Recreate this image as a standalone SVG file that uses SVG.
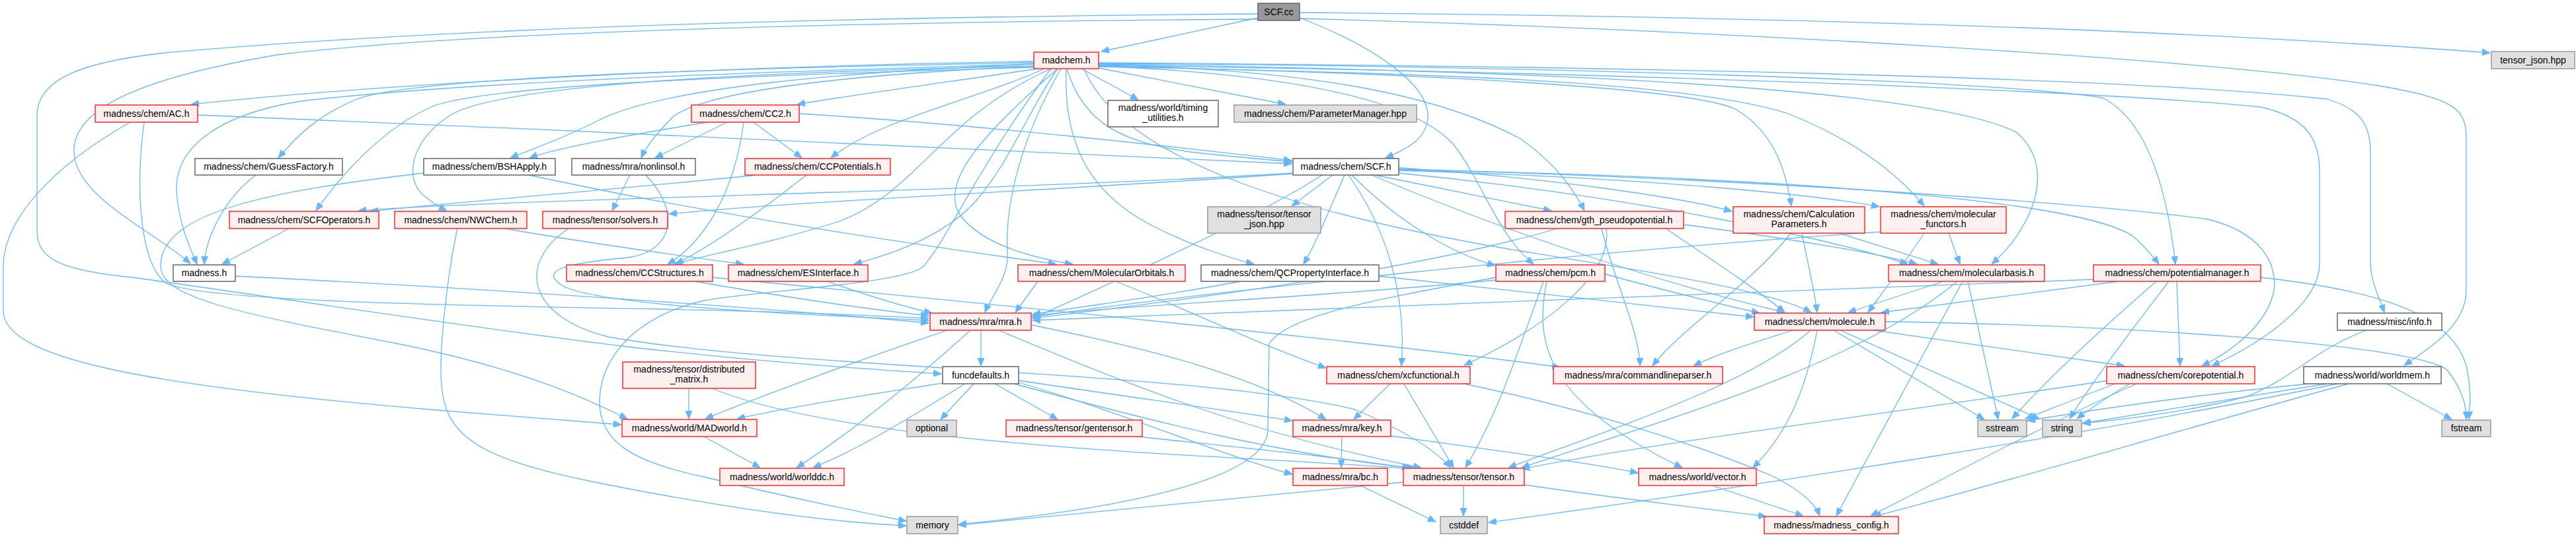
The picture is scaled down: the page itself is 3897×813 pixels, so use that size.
<svg xmlns="http://www.w3.org/2000/svg" width="3897" height="813" viewBox="0 0 3897 813">
<defs>
<marker id="a" markerUnits="userSpaceOnUse" markerWidth="13" markerHeight="10" refX="12" refY="5" orient="auto"><path d="M0,0 L12,5 L0,10 z" fill="#63b8ff" stroke="#63b8ff" stroke-width="1"/></marker>
<style>
.e path{fill:none;stroke:#63b8ff;stroke-width:1.3;marker-end:url(#a)}
.r rect{fill:#fff0f0;stroke:#ff2a2a;stroke-width:1.5}
.w rect{fill:#ffffff;stroke:#666666;stroke-width:1.5}
.g rect{fill:#e0e0e0;stroke:#999999;stroke-width:1.5}
.s rect{fill:#999999;stroke:#666666;stroke-width:1.5}
text{font-family:"Liberation Sans",Arial,Helvetica,sans-serif;font-size:14px;fill:#000;text-anchor:middle}
</style>
</defs>
<rect width="3897" height="813" fill="#ffffff"/>
<g id="connectors" class="e">
<path d="M1903,27 L1666,78"/>
<path d="M1966,27 C2080,70 2165,130 2160,180 C2157,210 2130,225 2096,239"/>
<path d="M1966,19 C2700,25 3300,45 3767,80"/>
<path d="M1966,28 C2600,45 3350,90 3600,130 C3715,150 3731,165 3731,210 L3731,440 C3731,490 3680,525 3637,553"/>
<path d="M1903,21 C1300,26 700,40 250,80 C110,95 56,125 56,175 L56,350 C56,395 100,410 200,420 C350,440 700,495 950,525 C1150,548 1300,558 1424,566"/>
<path d="M1903,29 C1300,33 700,48 420,83 C200,120 100,170 113,240 C126,305 240,355 288,399"/>
<path d="M1564,93 C1100,100 600,125 289,158"/>
<path d="M1570,104 C1450,122 1300,142 1206,158"/>
<path d="M1636,104 L1722,151"/>
<path d="M1662,103 L1945,158"/>
<path d="M1564,95 C1000,105 620,120 540,150 C480,175 450,205 421,239"/>
<path d="M1566,97 C1300,108 1000,130 900,185 C850,210 800,228 772,239"/>
<path d="M1568,100 C1300,112 1080,135 1020,175 C995,200 978,220 970,239"/>
<path d="M1580,104 C1480,150 1330,180 1257,239"/>
<path d="M1614,104 C1640,190 1700,215 1800,230 C1870,238 1920,242 1955,245"/>
<path d="M1566,102 C1100,115 720,130 650,163 C580,195 520,260 478,319"/>
<path d="M1566,100 C1100,110 750,130 680,175 C620,215 612,270 640,295 C655,308 665,314 676,319"/>
<path d="M1564,97 C1100,110 700,125 456,153 C320,175 258,230 268,300 C274,350 290,380 298,400"/>
<path d="M1662,98 C1950,105 2160,135 2300,210 C2350,245 2380,285 2397,319"/>
<path d="M1662,100 C2100,110 2550,130 2625,165 C2685,200 2702,260 2710,312"/>
<path d="M1662,101 C2150,110 2550,122 2705,172 C2805,212 2870,262 2911,312"/>
<path d="M1590,104 C1420,180 1390,290 1270,335 C1160,370 1070,385 1020,400"/>
<path d="M1600,104 C1560,160 1530,240 1480,300 C1430,360 1340,387 1292,400"/>
<path d="M1600,104 C1490,200 1420,275 1452,325 C1485,370 1560,390 1623,400"/>
<path d="M1613,104 C1608,220 1650,300 1760,350 C1820,378 1860,390 1897,400"/>
<path d="M1662,100 C1900,110 2130,140 2200,220 C2245,280 2265,355 2320,400"/>
<path d="M1662,97 C2200,105 2900,125 3050,200 C3110,250 3080,340 3013,400"/>
<path d="M1662,96 C2300,100 3000,120 3180,148 C3252,182 3280,300 3291,400"/>
<path d="M1662,95 C2400,100 3200,115 3520,150 C3572,165 3586,190 3586,230 L3586,400 C3588,430 3600,452 3607,473"/>
<path d="M1662,99 C2500,110 3200,140 3420,162 C3490,178 3509,210 3509,260 L3509,400 C3509,460 3420,520 3346,554"/>
<path d="M1605,104 C1550,200 1520,300 1524,380 C1527,420 1500,448 1490,473"/>
<path d="M1640,104 C1700,250 2000,330 2300,380 C2500,412 2680,440 2740,473"/>
<path d="M1590,104 C1480,250 1430,370 1395,405 C1360,430 1150,440 1065,455 C960,480 910,540 907,605 C905,670 960,700 1065,722 C1200,755 1300,775 1371,789"/>
<path d="M1956,262 C1500,290 800,300 542,319"/>
<path d="M1956,263 C1600,288 1200,305 1012,324"/>
<path d="M2016,265 L1954,312"/>
<path d="M2080,265 L2347,319"/>
<path d="M2116,254 C2350,270 2550,300 2620,320"/>
<path d="M2116,258 C2500,270 2750,295 2843,313"/>
<path d="M2034,265 C2010,320 1990,370 1972,400"/>
<path d="M2045,265 C2120,340 2200,385 2262,402"/>
<path d="M2116,262 C2500,300 2800,370 2886,400"/>
<path d="M2116,257 C2800,270 3180,312 3232,362 C3250,380 3260,392 3266,400"/>
<path d="M2000,265 C1900,330 1700,420 1562,482"/>
<path d="M2075,265 C2300,360 2520,430 2700,473"/>
<path d="M2040,265 C2100,350 2128,450 2120,554"/>
<path d="M2116,256 C2700,272 3200,312 3340,332 C3422,352 3445,400 3440,440 C3430,490 3380,530 3331,554"/>
<path d="M299,174 C900,200 1700,232 1954,248"/>
<path d="M197,185 C100,240 8,320 5,400 L5,470 C5,540 200,582 650,620 C800,632 880,638 940,643"/>
<path d="M218,185 C203,300 215,400 250,428 C300,455 650,462 1000,468 C1200,472 1330,478 1405,482"/>
<path d="M1209,172 C1500,190 1800,225 1954,243"/>
<path d="M1070,185 C950,205 850,222 801,239"/>
<path d="M1100,185 L991,239"/>
<path d="M1140,185 L1213,239"/>
<path d="M1125,185 C1110,300 1060,370 1010,400"/>
<path d="M387,265 C340,300 311,360 309,400"/>
<path d="M641,262 C400,290 247,322 243,400 C240,450 350,472 600,520 C800,560 900,610 949,634"/>
<path d="M800,265 C1100,330 1400,372 1598,400"/>
<path d="M953,265 L926,319"/>
<path d="M977,265 C1030,320 1020,380 950,390 C840,400 820,412 850,432 C900,462 1200,476 1405,485"/>
<path d="M860,346 C780,400 800,480 920,510 C1200,560 1800,560 2050,620 C2120,650 2170,680 2195,708"/>
<path d="M1145,265 C900,290 700,305 560,320"/>
<path d="M1220,265 C1150,320 1080,370 1022,400"/>
<path d="M437,346 L336,400"/>
<path d="M764,346 C900,370 1050,390 1125,400"/>
<path d="M692,346 C680,400 667,500 667,560 C667,650 700,690 900,730 C1100,770 1250,790 1371,796"/>
<path d="M356,418 C800,440 1200,470 1405,489"/>
<path d="M1052,426 C1200,452 1330,470 1405,478"/>
<path d="M1078,420 C1500,460 2100,520 2360,556"/>
<path d="M1251,426 C1320,450 1370,465 1410,474"/>
<path d="M1688,426 C1800,470 1900,520 2006,557"/>
<path d="M1570,426 L1536,473"/>
<path d="M1876,426 C1750,450 1650,462 1562,476"/>
<path d="M2086,418 C2300,440 2500,462 2653,480"/>
<path d="M2428,415 C2520,440 2600,460 2662,474"/>
<path d="M2335,426 C2300,520 2270,620 2217,708"/>
<path d="M2340,426 C2320,520 2340,610 2545,708"/>
<path d="M2263,420 C2100,450 1950,475 1920,520 L1918,650 C1918,725 1700,770 1450,794"/>
<path d="M2263,424 C2000,450 1700,462 1562,478"/>
<path d="M2940,426 L2796,473"/>
<path d="M2977,426 L3023,635"/>
<path d="M2969,426 L2778,781"/>
<path d="M2961,426 C2800,560 2500,640 2302,708"/>
<path d="M3205,426 L2846,473"/>
<path d="M3293,426 L3298,554"/>
<path d="M3420,420 C3600,440 3705,475 3730,550 C3740,590 3736,615 3735,635"/>
<path d="M3262,426 C3200,480 3100,570 3044,634"/>
<path d="M3281,426 C3240,480 3170,570 3131,634"/>
<path d="M3167,423 C2700,440 2000,468 1562,485"/>
<path d="M2712,500 C2650,520 2600,535 2562,554"/>
<path d="M2774,500 L3002,635"/>
<path d="M2784,500 L3085,634"/>
<path d="M2852,487 C3200,492 3650,520 3702,560 C3725,590 3731,612 3731,635"/>
<path d="M2834,500 L3214,554"/>
<path d="M2749,500 C2730,600 2700,660 2652,708"/>
<path d="M2739,500 C2650,580 2450,645 2282,708"/>
<path d="M3200,581 C3150,600 3100,620 3064,634"/>
<path d="M3222,581 C3190,600 3160,620 3142,634"/>
<path d="M3232,581 C3100,640 2950,720 2830,781"/>
<path d="M3190,576 C2900,620 2500,670 2302,710"/>
<path d="M3611,581 L3709,635"/>
<path d="M3520,581 C3400,600 3250,625 3150,641"/>
<path d="M3492,581 C3350,595 3200,615 3067,637"/>
<path d="M3553,581 C3300,650 3000,740 2834,782"/>
<path d="M3536,581 C3200,650 2700,730 2252,791"/>
<path d="M3580,500 C3500,530 3470,572 3400,600 C3300,626 3200,636 3151,641"/>
<path d="M1484,500 L1484,554"/>
<path d="M1433,500 C1300,545 1150,600 1067,634"/>
<path d="M1468,500 C1380,580 1280,660 1205,708"/>
<path d="M1511,500 C1700,580 1900,660 2150,708"/>
<path d="M1560,492 C1750,530 1900,570 2006,635"/>
<path d="M1473,581 L1423,635"/>
<path d="M1505,581 L1600,635"/>
<path d="M1541,576 C1700,600 1850,620 1955,637"/>
<path d="M1541,579 C1700,625 1850,690 1955,718"/>
<path d="M1534,581 C1750,640 1950,690 2140,709"/>
<path d="M1426,580 C1300,600 1200,615 1115,634"/>
<path d="M1460,581 C1380,630 1300,680 1230,708"/>
<path d="M1042,588 L1042,634"/>
<path d="M1077,588 C1300,680 1900,690 2138,710"/>
<path d="M2103,581 L2048,635"/>
<path d="M2124,581 L2199,708"/>
<path d="M2215,581 C2400,620 2560,670 2680,720 C2720,740 2745,760 2753,781"/>
<path d="M1721,661 C1900,680 2050,695 2133,709"/>
<path d="M2030,661 L2029,708"/>
<path d="M2104,660 C2250,680 2400,700 2478,716"/>
<path d="M1065,661 L1150,708"/>
<path d="M2058,735 L2172,790"/>
<path d="M2214,735 L2214,781"/>
<path d="M2123,730 C1800,760 1600,780 1450,795"/>
<path d="M2306,734 C2450,755 2580,770 2672,782"/>
<path d="M2590,735 L2728,781"/>
<path d="M2726,353 C2735,400 2745,440 2749,473"/>
<path d="M2782,353 L2932,400"/>
<path d="M2709,353 C2650,430 2540,500 2500,554"/>
<path d="M2911,353 C2880,400 2850,440 2826,473"/>
<path d="M2948,353 L2965,400"/>
<path d="M2845,351 C2400,380 1800,445 1562,480"/>
<path d="M2547,340 C2700,360 2850,385 2900,400"/>
<path d="M2520,346 C2600,400 2660,440 2700,473"/>
<path d="M2356,346 C2100,420 1700,465 1562,482"/>
<path d="M2423,346 C2440,420 2480,500 2481,554"/>
<path d="M2430,346 C2440,420 2330,500 2215,553"/>
</g>
<g id="n_scfcc" class="s"><rect x="1903" y="5" width="63" height="26"/><text x="1934.5" y="23">SCF.cc</text></g>
<g id="n_madchem" class="r"><rect x="1564" y="79" width="98" height="25"/><text x="1613" y="96">madchem.h</text></g>
<g id="n_tensorjson" class="g"><rect x="3769" y="78" width="126" height="26"/><text x="3832" y="96">tensor_json.hpp</text></g>
<g id="n_ac" class="r"><rect x="144" y="159" width="155" height="26"/><text x="221.5" y="177">madness/chem/AC.h</text></g>
<g id="n_cc2" class="r"><rect x="1046" y="159" width="163" height="26"/><text x="1127.5" y="177">madness/chem/CC2.h</text></g>
<g id="n_timing" class="w"><rect x="1676" y="152" width="167" height="40"/><text x="1759.5" y="168">madness/world/timing</text><text x="1759.5" y="183">_utilities.h</text></g>
<g id="n_parammgr" class="g"><rect x="1867" y="159" width="276" height="26"/><text x="2005" y="177">madness/chem/ParameterManager.hpp</text></g>
<g id="n_guess" class="w"><rect x="295" y="240" width="223" height="25"/><text x="406.5" y="257">madness/chem/GuessFactory.h</text></g>
<g id="n_bsh" class="w"><rect x="641" y="240" width="199" height="25"/><text x="740.5" y="257">madness/chem/BSHApply.h</text></g>
<g id="n_nonlinsol" class="w"><rect x="865" y="240" width="187" height="25"/><text x="958.5" y="257">madness/mra/nonlinsol.h</text></g>
<g id="n_ccpot" class="r"><rect x="1127" y="240" width="220" height="25"/><text x="1237" y="257">madness/chem/CCPotentials.h</text></g>
<g id="n_scfh" class="w"><rect x="1956" y="240" width="160" height="25"/><text x="2036" y="257">madness/chem/SCF.h</text></g>
<g id="n_scfops" class="r"><rect x="347" y="320" width="226" height="26"/><text x="460" y="338">madness/chem/SCFOperators.h</text></g>
<g id="n_nwchem" class="r"><rect x="597" y="320" width="200" height="26"/><text x="697" y="338">madness/chem/NWChem.h</text></g>
<g id="n_solvers" class="r"><rect x="821" y="320" width="189" height="26"/><text x="915.5" y="338">madness/tensor/solvers.h</text></g>
<g id="n_tensorjson2" class="g"><rect x="1827" y="313" width="171" height="40"/><text x="1912.5" y="329">madness/tensor/tensor</text><text x="1912.5" y="344">_json.hpp</text></g>
<g id="n_gth" class="r"><rect x="2277" y="320" width="270" height="26"/><text x="2412" y="338">madness/chem/gth_pseudopotential.h</text></g>
<g id="n_calcparams" class="r"><rect x="2622" y="313" width="199" height="40"/><text x="2721.5" y="329">madness/chem/Calculation</text><text x="2721.5" y="344">Parameters.h</text></g>
<g id="n_molfunctors" class="r"><rect x="2845" y="313" width="190" height="40"/><text x="2940" y="329">madness/chem/molecular</text><text x="2940" y="344">_functors.h</text></g>
<g id="n_madness" class="w"><rect x="262" y="401" width="94" height="25"/><text x="309" y="418">madness.h</text></g>
<g id="n_ccstruct" class="r"><rect x="857" y="401" width="221" height="25"/><text x="967.5" y="418">madness/chem/CCStructures.h</text></g>
<g id="n_esinterface" class="r"><rect x="1102" y="401" width="211" height="25"/><text x="1207.5" y="418">madness/chem/ESInterface.h</text></g>
<g id="n_molorb" class="r"><rect x="1540" y="401" width="253" height="25"/><text x="1666.5" y="418">madness/chem/MolecularOrbitals.h</text></g>
<g id="n_qcprop" class="w"><rect x="1817" y="401" width="269" height="25"/><text x="1951.5" y="418">madness/chem/QCPropertyInterface.h</text></g>
<g id="n_pcm" class="r"><rect x="2263" y="401" width="165" height="25"/><text x="2345.5" y="418">madness/chem/pcm.h</text></g>
<g id="n_molbasis" class="r"><rect x="2857" y="401" width="236" height="25"/><text x="2975" y="418">madness/chem/molecularbasis.h</text></g>
<g id="n_potmgr" class="r"><rect x="3167" y="401" width="253" height="25"/><text x="3293.5" y="418">madness/chem/potentialmanager.h</text></g>
<g id="n_mra" class="r"><rect x="1407" y="474" width="153" height="26"/><text x="1483.5" y="492">madness/mra/mra.h</text></g>
<g id="n_molecule" class="r"><rect x="2654" y="474" width="198" height="26"/><text x="2753" y="492">madness/chem/molecule.h</text></g>
<g id="n_info" class="w"><rect x="3536" y="474" width="158" height="26"/><text x="3615" y="492">madness/misc/info.h</text></g>
<g id="n_distmat" class="r"><rect x="942" y="548" width="201" height="40"/><text x="1042.5" y="564">madness/tensor/distributed</text><text x="1042.5" y="579">_matrix.h</text></g>
<g id="n_funcdefaults" class="w"><rect x="1426" y="555" width="115" height="26"/><text x="1483.5" y="573">funcdefaults.h</text></g>
<g id="n_xc" class="r"><rect x="2007" y="555" width="217" height="26"/><text x="2115.5" y="573">madness/chem/xcfunctional.h</text></g>
<g id="n_cmdline" class="r"><rect x="2350" y="555" width="256" height="26"/><text x="2478" y="573">madness/mra/commandlineparser.h</text></g>
<g id="n_corepot" class="r"><rect x="3187" y="555" width="224" height="26"/><text x="3299" y="573">madness/chem/corepotential.h</text></g>
<g id="n_worldmem" class="w"><rect x="3485" y="555" width="208" height="26"/><text x="3589" y="573">madness/world/worldmem.h</text></g>
<g id="n_madworld" class="r"><rect x="941" y="635" width="204" height="26"/><text x="1043" y="653">madness/world/MADworld.h</text></g>
<g id="n_optional" class="g"><rect x="1372" y="636" width="75" height="25"/><text x="1409.5" y="653">optional</text></g>
<g id="n_gentensor" class="r"><rect x="1522" y="636" width="206" height="25"/><text x="1625" y="653">madness/tensor/gentensor.h</text></g>
<g id="n_key" class="r"><rect x="1956" y="636" width="148" height="25"/><text x="2030" y="653">madness/mra/key.h</text></g>
<g id="n_sstream" class="g"><rect x="2992" y="636" width="74" height="25"/><text x="3029" y="653">sstream</text></g>
<g id="n_string" class="g"><rect x="3090" y="636" width="59" height="25"/><text x="3119.5" y="653">string</text></g>
<g id="n_fstream" class="g"><rect x="3694" y="636" width="74" height="25"/><text x="3731" y="653">fstream</text></g>
<g id="n_worlddc" class="r"><rect x="1089" y="709" width="188" height="26"/><text x="1183" y="727">madness/world/worlddc.h</text></g>
<g id="n_bc" class="r"><rect x="1956" y="709" width="143" height="26"/><text x="2027.5" y="727">madness/mra/bc.h</text></g>
<g id="n_tensor" class="r"><rect x="2123" y="709" width="183" height="26"/><text x="2214.5" y="727">madness/tensor/tensor.h</text></g>
<g id="n_vector" class="r"><rect x="2479" y="709" width="178" height="26"/><text x="2568" y="727">madness/world/vector.h</text></g>
<g id="n_memory" class="g"><rect x="1372" y="782" width="77" height="26"/><text x="1410.5" y="800">memory</text></g>
<g id="n_cstddef" class="g"><rect x="2179" y="782" width="71" height="26"/><text x="2214.5" y="800">cstddef</text></g>
<g id="n_config" class="r"><rect x="2669" y="782" width="203" height="26"/><text x="2770.5" y="800">madness/madness_config.h</text></g>
</svg>
